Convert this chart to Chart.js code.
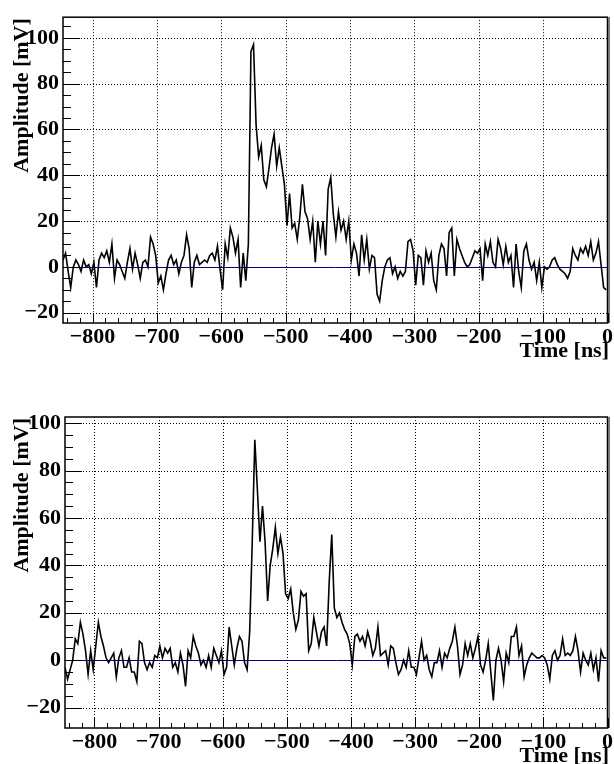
<!DOCTYPE html>
<html lang="en">
<head>
  <meta charset="UTF-8">
  <title>Amplitude vs time</title>
  <script src="https://cdn.jsdelivr.net/npm/chart.js@4"></script>
  <style>
    body {
      margin: 0;
      background: #fff;
    }
    .pad {
      position: absolute;
      left: 0;
      width: 614px;
      height: 382px;
    }
  </style>
</head>
<body>
  <div class="pad" style="top:0"><canvas id="upper" width="614" height="382"></canvas></div>
  <div class="pad" style="top:382px"><canvas id="lower" width="614" height="382"></canvas></div>

  <script>
    // sampling of both waveforms (ns)
    var timeStart = -846;
    var timeStep = 4;

    var xTicks = [-800, -700, -600, -500, -400, -300, -200, -100, 0];
    var yTicks = [-20, 0, 20, 40, 60, 80, 100];

    // upper waveform, mV
    var upperValues = [
      3, 6, -2, -9, 0, 3, 1, -2, 3, 0,
      1, -3, 2, -9, 3, 6, 4, 7, 2, 10,
      -5, 3, 1, -2, -5, 2, 8, -1, 6, 1,
      -5, 2, 3, 0, 13, 10, 5, -7, -4, -10,
      -3, 3, 5, 1, 3, -3, 2, 5, 14, 8,
      -9, 2, 5, 1, 2, 3, 2, 5, 6, 3,
      9, -1, -10, 10, 4, 17, 13, 6, 12, -9,
      6, -6, 10, 94, 97, 62, 48, 53, 38, 35,
      43, 52, 58, 44, 52, 44, 36, 18, 32, 17,
      19, 12, 22, 36, 24, 21, 12, 20, 2, 20,
      10, 20, 5, 34, 39, 23, 13, 24, 16, 20,
      12, 20, 3, 10, 6, -4, 14, 3, 12, -1,
      5, 4, -12, -15, -6, 0, 3, 4, -3, 0,
      -5, -2, -4, -2, 11, 12, 7, -8, 5, 4,
      -8, 7, 2, 6, -6, -10, 5, 10, 8, -4,
      15, 17, -4, 12, 8, 5, 2, 0, 1, 4,
      7, 6, 8, -6, 10, 5, 11, 2, 0, 12,
      8, 1, 9, 2, 5, -9, 10, -2, -9, 7,
      10, 3, -1, 2, -6, 2, -9, 0, -1, 0,
      3, 4, 1, -1, -2, -3, -5, -2, 8, 5,
      3, 8, 6, 9, 5, 11, 3, 6, 11, 1,
      -9, -10
    ];

    // lower waveform, mV
    var lowerValues = [
      -3, -8, -4, 0, 9, 7, 16, 11, 4, -6,
      4, -4, 6, 16, 10, 6, 1, -1, 1, 3,
      -7, 1, 4, -3, -3, 1, -5, -5, -9, 8,
      7, -1, -4, -1, -3, 2, 1, 6, 1, 5,
      3, 5, -3, -1, -5, 3, -2, -11, 4, 1,
      10, 6, 3, -2, 0, -3, 2, -3, 5, 2,
      -1, 4, -6, -3, 14, 6, -2, 5, 10, 8,
      -1, -4, 12, 50, 93, 72, 50, 65, 50, 25,
      40, 47, 56, 45, 52, 45, 28, 26, 30, 20,
      13, 17, 29, 27, 28, 4, 7, 18, 12, 6,
      12, 14, 6, 33, 53, 22, 18, 20, 16, 13,
      11, 7, -2, 10, 11, 8, 10, 6, 12, 8,
      2, 5, 14, 2, 3, 4, -2, 6, 5, -1,
      -6, -4, 0, -3, 4, -3, -3, -6, 1, 8,
      0, 2, -4, -7, -1, -1, 4, -3, 3, 1,
      5, 8, 14, 6, -6, -2, 7, 2, 7, 1,
      5, 10, -2, -5, 0, 7, -5, -17, 0, 5,
      0, -9, 3, -1, 10, 10, 14, 2, 6, -7,
      -2, 1, 3, 2, 1, 1, 2, 1, -2, -8,
      2, 4, 0, 2, 9, 2, 3, 2, 4, 10,
      4, -5, 3, 0, -2, 3, -4, 1, -9, 4,
      1, 1
    ];

    var serif = '"Liberation Serif", "Times New Roman", serif';

    function label(v) {
      return v < 0 ? '\u2212' + Math.abs(v) : String(v);
    }

    var rootFrame = {
      id: 'rootFrame',
      beforeDatasetsDraw: function(chart) {
        var ctx = chart.ctx, a = chart.chartArea;
        var x = chart.scales.x, y = chart.scales.y;
        ctx.save();
        ctx.strokeStyle = '#000';
        ctx.lineWidth = 1;
        ctx.setLineDash([1, 2]);
        ctx.beginPath();
        xTicks.forEach(function(t) {
          if (t >= x.max) return;
          var px = Math.round(x.getPixelForValue(t)) + 0.5;
          ctx.moveTo(px, a.top);
          ctx.lineTo(px, a.bottom);
        });
        yTicks.forEach(function(v) {
          var py = Math.round(y.getPixelForValue(v)) + 0.5;
          ctx.moveTo(a.left, py);
          ctx.lineTo(a.right, py);
        });
        ctx.stroke();
        ctx.setLineDash([]);
        // baseline at 0 mV
        ctx.strokeStyle = '#00008c';
        ctx.beginPath();
        var y0 = Math.round(y.getPixelForValue(0)) + 0.5;
        ctx.moveTo(a.left, y0);
        ctx.lineTo(a.right, y0);
        ctx.stroke();
        ctx.restore();
      },
      afterDatasetsDraw: function(chart) {
        var ctx = chart.ctx, a = chart.chartArea;
        var x = chart.scales.x, y = chart.scales.y;
        ctx.save();
        ctx.strokeStyle = '#000';
        ctx.lineWidth = 1.5;
        ctx.strokeRect(a.left, a.top, a.right - a.left, a.bottom - a.top);
        ctx.strokeStyle = '#777';
        ctx.lineWidth = 2;
        ctx.beginPath();
        ctx.moveTo(a.right + 1.5, a.top);
        ctx.lineTo(a.right + 1.5, a.bottom);
        ctx.stroke();

        // ROOT style ticks, inside the frame
        ctx.strokeStyle = '#000';
        ctx.lineWidth = 1;
        ctx.beginPath();
        for (var t = -840; t <= x.max; t += 20) {
          var px = Math.round(x.getPixelForValue(t)) + 0.5;
          var len = (t % 100 === 0) ? 10 : 5;
          ctx.moveTo(px, a.bottom);
          ctx.lineTo(px, a.bottom - len);
        }
        for (var v = -20; v <= y.max; v += 5) {
          var py = Math.round(y.getPixelForValue(v)) + 0.5;
          var w = (v % 20 === 0) ? 17 : 8;
          ctx.moveTo(a.left, py);
          ctx.lineTo(a.left + w, py);
        }
        ctx.stroke();

        ctx.fillStyle = '#000';
        ctx.font = 'bold 22px ' + serif;
        ctx.textAlign = 'right';
        ctx.textBaseline = 'alphabetic';
        ctx.fillText('Time [ns]', 609, a.bottom + 34);
        ctx.translate(28, a.top + 1);
        ctx.rotate(-Math.PI / 2);
        ctx.fillText('Amplitude [mV]', 0, 0);
        ctx.restore();
      }
    };

    function makePanel(id, values, box, yMin, yMax) {
      var points = values.map(function(v, i) {
        return { x: timeStart + i * timeStep, y: v };
      });
      var tickFont = { family: serif, size: 22, weight: 'bold' };
      return new Chart(document.getElementById(id), {
        type: 'line',
        data: {
          datasets: [{
            data: points,
            borderColor: '#000',
            borderWidth: 1.6,
            pointRadius: 0,
            tension: 0
          }]
        },
        options: {
          responsive: false,
          animation: false,
          devicePixelRatio: 1,
          layout: {
            autoPadding: false,
            padding: { left: 0, top: box.top, right: 614 - box.right, bottom: 0 }
          },
          plugins: {
            legend: { display: false },
            tooltip: { enabled: false }
          },
          scales: {
            x: {
              type: 'linear',
              min: -846,
              max: 0,
              grid: { display: false, drawTicks: false },
              border: { display: false },
              afterFit: function(s) { s.height = 382 - box.bottom; },
              afterBuildTicks: function(s) { s.ticks = xTicks.map(function(v) { return { value: v }; }); },
              ticks: {
                autoSkip: false,
                maxRotation: 0,
                padding: 1,
                color: '#000',
                font: tickFont,
                callback: label
              }
            },
            y: {
              min: yMin,
              max: yMax,
              grid: { display: false, drawTicks: false },
              border: { display: false },
              afterFit: function(s) { s.width = box.left; },
              afterBuildTicks: function(s) { s.ticks = yTicks.map(function(v) { return { value: v }; }); },
              ticks: {
                padding: 4,
                color: '#000',
                font: tickFont,
                callback: label
              }
            }
          }
        },
        plugins: [rootFrame]
      });
    }

    makePanel('upper', upperValues, { left: 63, top: 11, right: 611, bottom: 323 }, -24.5, 109);
    makePanel('lower', lowerValues, { left: 65, top: 35, right: 612, bottom: 346 }, -28.6, 102.6);
  </script>
</body>
</html>
